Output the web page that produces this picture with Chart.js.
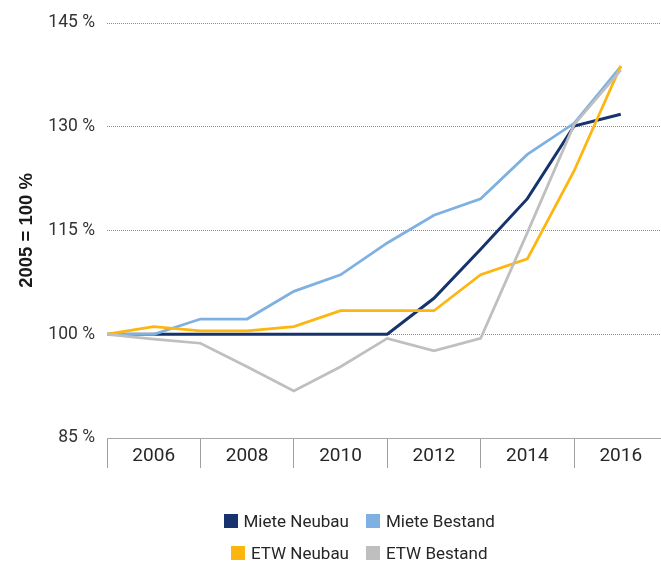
<!DOCTYPE html>
<html>
<head>
<meta charset="utf-8">
<script src="https://cdn.jsdelivr.net/npm/chart.js@4/dist/chart.umd.min.js"></script>
<style>
  html, body { margin: 0; padding: 0; background: #ffffff; }
  #wrap { position: relative; width: 661px; height: 567px; overflow: hidden; }
  #c { position: absolute; left: 0; top: 0; }
  .lg { position: absolute; height: 22px; display: flex; align-items: center; gap: 6px;
        font-family: Roboto, "Liberation Sans", sans-serif;
        font-size: 17px; color: #262626; white-space: nowrap; }
  .lg .bx { width: 14px; height: 14px; flex: none; }
</style>
</head>
<body>
<div id="wrap">
  <canvas id="c" width="661" height="567"></canvas>
</div>
<script>
// ---- data ----
const years = [2005, 2006, 2007, 2008, 2009, 2010, 2011, 2012, 2013, 2014, 2015, 2016];
const mieteNeubau  = [100, 100, 100, 100, 100, 100, 100, 105.2, 112.3, 119.6, 130.1, 131.8];
const mieteBestand = [100, 100, 102.2, 102.2, 106.2, 108.6, 113.2, 117.2, 119.6, 126.0, 130.5, 138.7];
const etwNeubau    = [100, 101.1, 100.5, 100.5, 101.1, 103.4, 103.4, 103.4, 108.6, 110.9, 123.6, 138.8];
const etwBestand   = [100, 99.3, 98.7, 95.3, 91.8, 95.3, 99.4, 97.6, 99.4, 114.7, 130.3, 138.2];
const seriesNames  = ["Miete Neubau", "Miete Bestand", "ETW Neubau", "ETW Bestand"];
const yTicks = [85, 100, 115, 130, 145];
const xLabelYears = [2006, 2008, 2010, 2012, 2014, 2016];
const yTitle = "2005 = 100 %";

const colors = ["#17336e", "#7eb1e2", "#fdb50f", "#bfbfbf"];
const seriesValues = [mieteNeubau, mieteBestand, etwNeubau, etwBestand];

const FONT = 'Roboto, "Liberation Sans", sans-serif';

const datasets = seriesValues.map((vals, i) => ({
  label: seriesNames[i],
  data: years.map((yr, k) => ({ x: yr, y: vals[k] })),
  borderColor: colors[i],
  backgroundColor: colors[i],
  borderWidth: i === 0 ? 3 : 2.75,
  pointRadius: 0,
  pointHoverRadius: 0,
  tension: 0,
  fill: false,
  order: 4 - i
}));

new Chart(document.getElementById('c'), {
  type: 'line',
  data: { datasets },
  options: {
    responsive: false,
    devicePixelRatio: 1,
    animation: false,
    events: [],
    layout: { padding: { left: 0, right: 1, top: 23, bottom: 99 } },
    plugins: { legend: { display: false }, tooltip: { enabled: false } },
    scales: {
      x: {
        type: 'linear',
        min: 2005,
        max: 2016.84,
        afterFit: s => { s.height = 30; },
        ticks: {
          stepSize: 1,
          autoSkip: false,
          includeBounds: false,
          maxRotation: 0,
          minRotation: 0,
          padding: -23,
          color: '#262626',
          font: { family: FONT, size: 19 },
          callback: v => xLabelYears.includes(v) ? String(v) : ''
        },
        grid: {
          display: true,
          drawOnChartArea: false,
          drawTicks: true,
          tickLength: 30,
          tickWidth: 1,
          tickColor: ctx => (ctx.tick && Number.isInteger(ctx.tick.value) && ctx.tick.value % 2 === 1) ? '#a0a0a0' : 'rgba(0,0,0,0)'
        },
        border: { display: true, color: '#a6a6a6', width: 1 }
      },
      y: {
        type: 'linear',
        min: yTicks[0],
        max: yTicks[yTicks.length - 1],
        afterFit: s => { s.width = 107; },
        afterBuildTicks: s => { s.ticks = yTicks.map(v => ({ value: v })); },
        ticks: {
          padding: 12,
          color: '#333333',
          font: { family: FONT, size: 17.5 },
          callback: v => v + ' %'
        },
        grid: {
          drawTicks: false,
          lineWidth: 1,
          color: ctx => (ctx.tick && ctx.tick.value === 85) ? 'rgba(0,0,0,0)' : '#8a8a8a'
        },
        border: { display: false, dash: [1, 1] },
        title: {
          display: true,
          text: yTitle,
          color: '#1a1a1a',
          font: { family: '"Liberation Sans", Arial, sans-serif', size: 18.5, weight: 'bold' },
          padding: { top: 16, bottom: 0 }
        }
      }
    }
  }
});

// ---- legend (two columns, two rows) ----
const wrap = document.getElementById('wrap');
const rowCenters = [521, 553];
seriesNames.forEach((name, i) => {
  const row = Math.floor(i / 2), col = i % 2;
  const d = document.createElement('div');
  d.className = 'lg';
  d.style.top = (rowCenters[row] - 11) + 'px';
  if (col === 0) d.style.right = (661 - 349) + 'px'; else d.style.left = '366px';
  const b = document.createElement('span');
  b.className = 'bx';
  b.style.background = colors[i];
  const t = document.createElement('span');
  t.textContent = name;
  d.appendChild(b); d.appendChild(t);
  wrap.appendChild(d);
});
</script>
</body>
</html>
